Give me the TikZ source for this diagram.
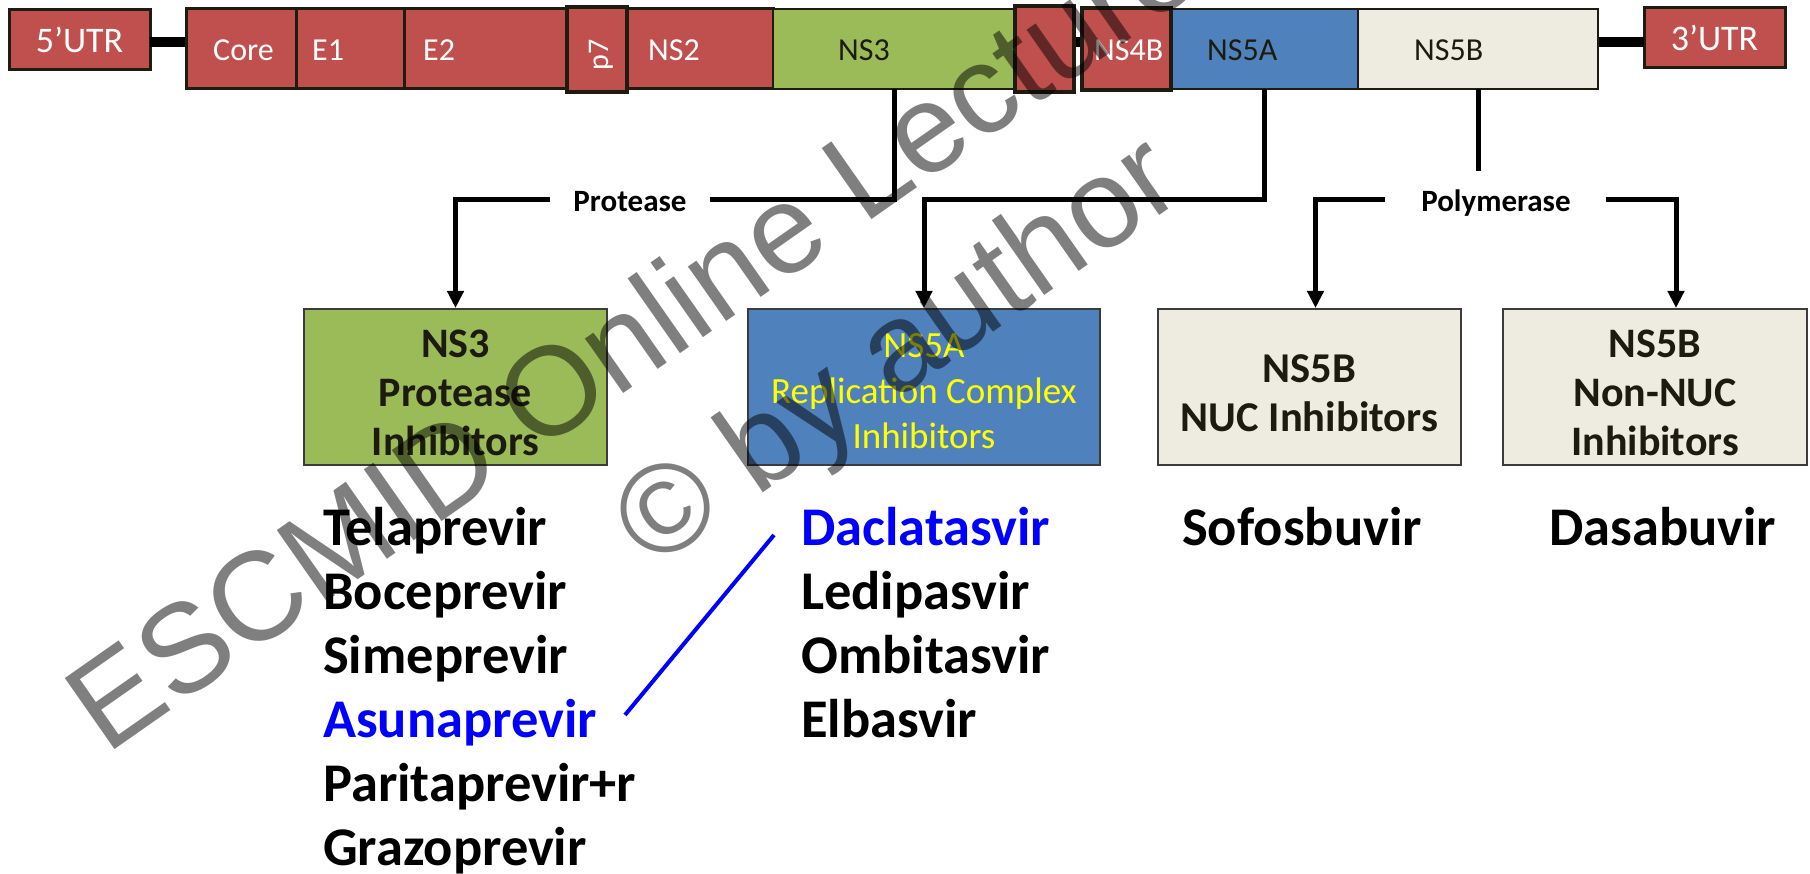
\documentclass[tikz,border=0pt]{standalone}
\usepackage{fontspec}
\setmainfont{Carlito}
\newfontfamily\wmfont{Liberation Sans}
\usetikzlibrary{arrows.meta,calc}
\definecolor{hcvred}{RGB}{192,80,77}
\definecolor{hcvgreen}{RGB}{155,187,89}
\definecolor{hcvblue}{RGB}{79,129,189}
\definecolor{hcvbeige}{RGB}{238,236,225}
\definecolor{edgecol}{RGB}{30,28,16}
\definecolor{darktext}{RGB}{29,27,16}
\definecolor{boxedge}{RGB}{60,60,60}
\definecolor{pureblue}{RGB}{0,0,255}
\definecolor{yell}{RGB}{255,255,0}
\begin{document}
\begin{tikzpicture}[x=1pt,y=-1pt,
  seg/.style={draw=edgecol, inner sep=0pt, outer sep=0pt},
  barlbl/.style={font=\fontsize{32}{38}\selectfont, inner sep=0pt, anchor=base west},
  conn/.style={line width=5pt, draw=black},
  arr/.style={conn, -{Triangle[length=17pt,width=16pt]}},
  lbl/.style={font=\bfseries\fontsize{31}{37}\selectfont, inner sep=0pt, anchor=base},
  infobox/.style={draw=boxedge, line width=2pt, minimum height=156pt, inner sep=0pt},
  boxtxt/.style={align=center, inner sep=0pt},
  drug/.style={font=\bfseries\fontsize{54.5}{63}\selectfont, anchor=base west, inner sep=0pt},
  wm/.style={font=\wmfont\fontsize{126}{150}\selectfont, text=black, text opacity=0.5, inner sep=0pt, anchor=base west, rotate=35}
]
\useasboundingbox (0,0) rectangle (1810,874);
\clip (0,0) rectangle (1810,874);

% UTR boxes
\node[seg, fill=hcvred, line width=3pt, minimum width=141pt, minimum height=60pt,
      text=white, font=\fontsize{36}{42}\selectfont] (utr5) at (79.5,40) {5’UTR};
\node[seg, fill=hcvred, line width=3pt, minimum width=141pt, minimum height=60pt,
      text=white, font=\fontsize{36}{42}\selectfont] (utr3) at (1714.5,38) {3’UTR};
\draw[line width=10pt] ([yshift=-2pt]utr5.east) -- ([yshift=-4pt]utr3.west);

% genome bar segments
\node[seg, fill=hcvred, line width=3pt, minimum width=110pt, minimum height=80pt] (core) at (241,49) {};
\node[seg, fill=hcvred, line width=3pt, minimum width=108pt, minimum height=80pt] (e1) at (350,49) {};
\node[seg, fill=hcvred, line width=3pt, minimum width=163pt, minimum height=80pt] (e2) at (485.5,49) {};
\node[seg, fill=hcvred, line width=3pt, minimum width=146pt, minimum height=80pt] (ns2) at (700,49) {};
\node[seg, fill=hcvgreen, line width=2pt, minimum width=242pt, minimum height=80pt] (ns3) at (894,49) {};
\node[seg, fill=hcvred, line width=4.5pt, minimum width=60pt, minimum height=85pt] (p7) at (597,49.5) {};
\node[seg, fill=hcvred, line width=4.5pt, minimum width=59pt, minimum height=86pt] (ns4a) at (1044.5,49) {};
\node[seg, fill=hcvblue, line width=1.5pt, minimum width=187pt, minimum height=80pt] (ns5a) at (1264.5,49) {};
\node[seg, fill=hcvbeige, line width=1.5pt, minimum width=240pt, minimum height=80pt] (ns5b) at (1478,49) {};
\node[seg, fill=hcvred, line width=3.5pt, minimum width=89pt, minimum height=82pt] (ns4b) at (1126.5,49) {};

% segment labels
\node[barlbl, text=white] (lcore) at (213,61) {Core};
\node[barlbl, text=white] (le1) at (312,61) {E1};
\node[barlbl, text=white] (le2) at (423,61) {E2};
\node[font=\fontsize{30}{36}\selectfont, inner sep=0pt, text=white, rotate=90] (lp7) at (601,55) {p7};
\node[barlbl, text=white] (lns2) at (648,61) {NS2};
\node[barlbl, text=darktext] (lns3) at (838,61) {NS3};
\node[barlbl, text=white] (lns4b) at (1094,61) {NS4B};
\node[barlbl, text=darktext] (lns5a) at (1207,61) {NS5A};
\node[barlbl, text=darktext] (lns5b) at (1414,61) {NS5B};

% inhibitor boxes
\node[infobox, fill=hcvgreen, minimum width=303pt] (pi) at (455.5,387) {};
\node[infobox, fill=hcvblue, minimum width=352pt] (rc) at (924,387) {};
\node[infobox, fill=hcvbeige, minimum width=303pt] (nuc) at (1309.5,387) {};
\node[infobox, fill=hcvbeige, minimum width=304pt] (nnuc) at (1655,387) {};

\node[boxtxt, text=darktext, font=\bfseries\fontsize{42}{49}\selectfont] (pit) at (455.5,393) {NS3\\Protease\\Inhibitors};
\node[boxtxt, text=yell, font=\fontsize{37}{45.5}\selectfont] (rct) at (924,391.5) {NS5A\\Replication Complex\\Inhibitors};
\node[boxtxt, text=darktext, font=\bfseries\fontsize{42.5}{49}\selectfont] (nuct) at (1309.5,393.3) {NS5B\\NUC Inhibitors};
\node[boxtxt, text=darktext, font=\bfseries\fontsize{42}{49}\selectfont] (nnuct) at (1655,393) {NS5B\\Non-NUC\\Inhibitors};

% connector labels
\node[lbl] (prot) at (630,212) {Protease};
\node[lbl] (poly) at (1496,212) {Polymerase};
\coordinate (pl) at (550,200);
\coordinate (pr) at (710,200);
\coordinate (ml) at (1385,200);
\coordinate (mr) at (1606,200);
\coordinate (pt) at (1478,171);

% connectors
\draw[conn] (ns3.south) |- (pr);
\draw[arr] (pl) -| (pi.north);
\draw[arr] (ns5a.south) |- (rc.north |- pl) -- (rc.north);
\draw[conn] (ns5b.south) -- (pt);
\draw[arr] (ml) -| ([xshift=6pt]nuc.north);
\draw[arr] (mr) -| ([xshift=21pt]nnuc.north);

% drug lists
\node[drug] (d1) at (323,545) {Telaprevir};
\node[drug] (d2) at (323,609) {Boceprevir};
\node[drug] (d3) at (323,673) {Simeprevir};
\node[drug, text=pureblue] (d4) at (323,737) {Asunaprevir};
\node[drug] (d5) at (323,801) {Paritaprevir+r};
\node[drug] (d6) at (323,865) {Grazoprevir};
\node[drug, text=pureblue] (n1) at (801,545) {Daclatasvir};
\node[drug] (n2) at (801,609) {Ledipasvir};
\node[drug] (n3) at (801,673) {Ombitasvir};
\node[drug] (n4) at (801,737) {Elbasvir};
\node[drug] (s1) at (1182,545) {Sofosbuvir};
\node[drug] (s2) at (1549,545) {Dasabuvir};

\coordinate (b1) at (625,715);
\coordinate (b2) at (774,535);
\draw[pureblue, line width=4pt] (b1) -- (b2);

% watermark
\node[wm] (w1) at (106,756) {ESCMID Online Lecture Library};
\node[wm] (w2) at (652,571) {© by author};
\end{tikzpicture}
\end{document}
